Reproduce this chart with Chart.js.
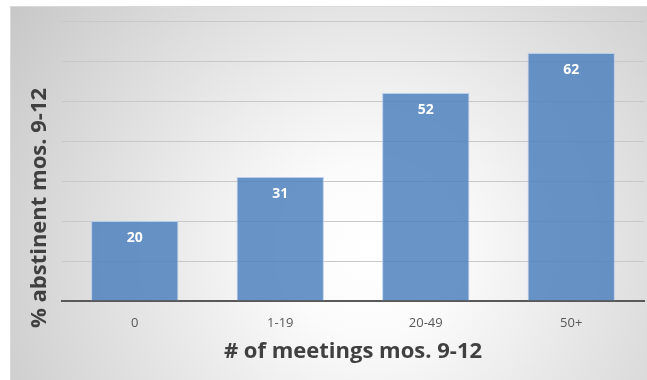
<!DOCTYPE html>
<html>
<head>
<meta charset="utf-8">
<script src="https://cdn.jsdelivr.net/npm/chart.js@4.4.1/dist/chart.umd.min.js"></script>
<style>
  html, body { margin: 0; padding: 0; background: #ffffff; }
  #wrap { width: 647px; height: 380px; }
</style>
</head>
<body>
<div id="wrap"><canvas id="c" width="647" height="380"></canvas></div>
<script>
// Meeting attendance groups and the share abstinent in months 9-12
const categories = ['0', '1-19', '20-49', '50+'];
const abstinentPct = [20, 31, 52, 62];
const xTitle = '# of meetings mos. 9-12';
const yTitle = '% abstinent mos. 9-12';

// Soft grey radial backdrop with a thin frame
const backdrop = {
  id: 'backdrop',
  beforeDraw(chart) {
    const { ctx, width, height } = chart;
    ctx.save();
    ctx.fillStyle = '#ffffff';
    ctx.fillRect(0, 0, width, height);
    const g = ctx.createRadialGradient(370, 250, 0, 370, 250, 430);
    g.addColorStop(0, '#ffffff');
    g.addColorStop(0.2, '#fbfbfb');
    g.addColorStop(1, '#c8c8c8');
    ctx.fillStyle = g;
    ctx.fillRect(10, 6, width - 10, height - 6);
    ctx.strokeStyle = '#d9d9d9';
    ctx.lineWidth = 1;
    ctx.beginPath();
    ctx.moveTo(10.5, height);
    ctx.lineTo(10.5, 6.5);
    ctx.lineTo(width, 6.5);
    ctx.stroke();
    ctx.restore();
  }
};

// Value labels inside the top of each bar, plus the two axis titles
const annotate = {
  id: 'annotate',
  afterDatasetsDraw(chart) {
    const { ctx, chartArea } = chart;
    const meta = chart.getDatasetMeta(0);
    const values = chart.data.datasets[0].data;
    ctx.save();
    ctx.fillStyle = '#ffffff';
    ctx.font = 'bold 14px "Open Sans", sans-serif';
    ctx.textAlign = 'center';
    ctx.textBaseline = 'middle';
    meta.data.forEach((bar, i) => {
      ctx.fillText(String(values[i]), bar.x, bar.y + 17);
    });

    ctx.fillStyle = '#404040';
    ctx.font = 'bold 22px "Open Sans", sans-serif';
    ctx.fillText(xTitle, (chartArea.left + chartArea.right) / 2, 352);

    ctx.translate(40, 208);
    ctx.rotate(-Math.PI / 2);
    ctx.fillText(yTitle, 0, 0);
    ctx.restore();
  }
};

new Chart(document.getElementById('c'), {
  type: 'bar',
  data: {
    labels: categories,
    datasets: [{
      data: abstinentPct,
      backgroundColor: 'rgba(79,129,189,0.85)',
      borderColor: 'rgba(180,202,232,0.9)',
      borderWidth: 1,
      categoryPercentage: 0.6,
      barPercentage: 1.0
    }]
  },
  options: {
    responsive: false,
    devicePixelRatio: 1,
    animation: false,
    layout: { padding: { left: 62, top: 21, right: 3, bottom: 0 } },
    plugins: {
      legend: { display: false },
      tooltip: { enabled: false }
    },
    scales: {
      x: {
        grid: { display: false, drawTicks: false },
        border: { display: true, color: '#595959', width: 2 },
        ticks: {
          color: '#595959',
          font: { family: '"Open Sans", sans-serif', size: 13 },
          padding: 14
        },
        afterFit(scale) { scale.height = 79; }
      },
      y: {
        min: 0,
        max: 70,
        ticks: { display: false, stepSize: 10 },
        grid: { color: '#c8c8c8', lineWidth: 1, drawTicks: false },
        border: { display: false },
        afterFit(scale) { scale.width = 0; }
      }
    }
  },
  plugins: [backdrop, annotate]
});
</script>
</body>
</html>
